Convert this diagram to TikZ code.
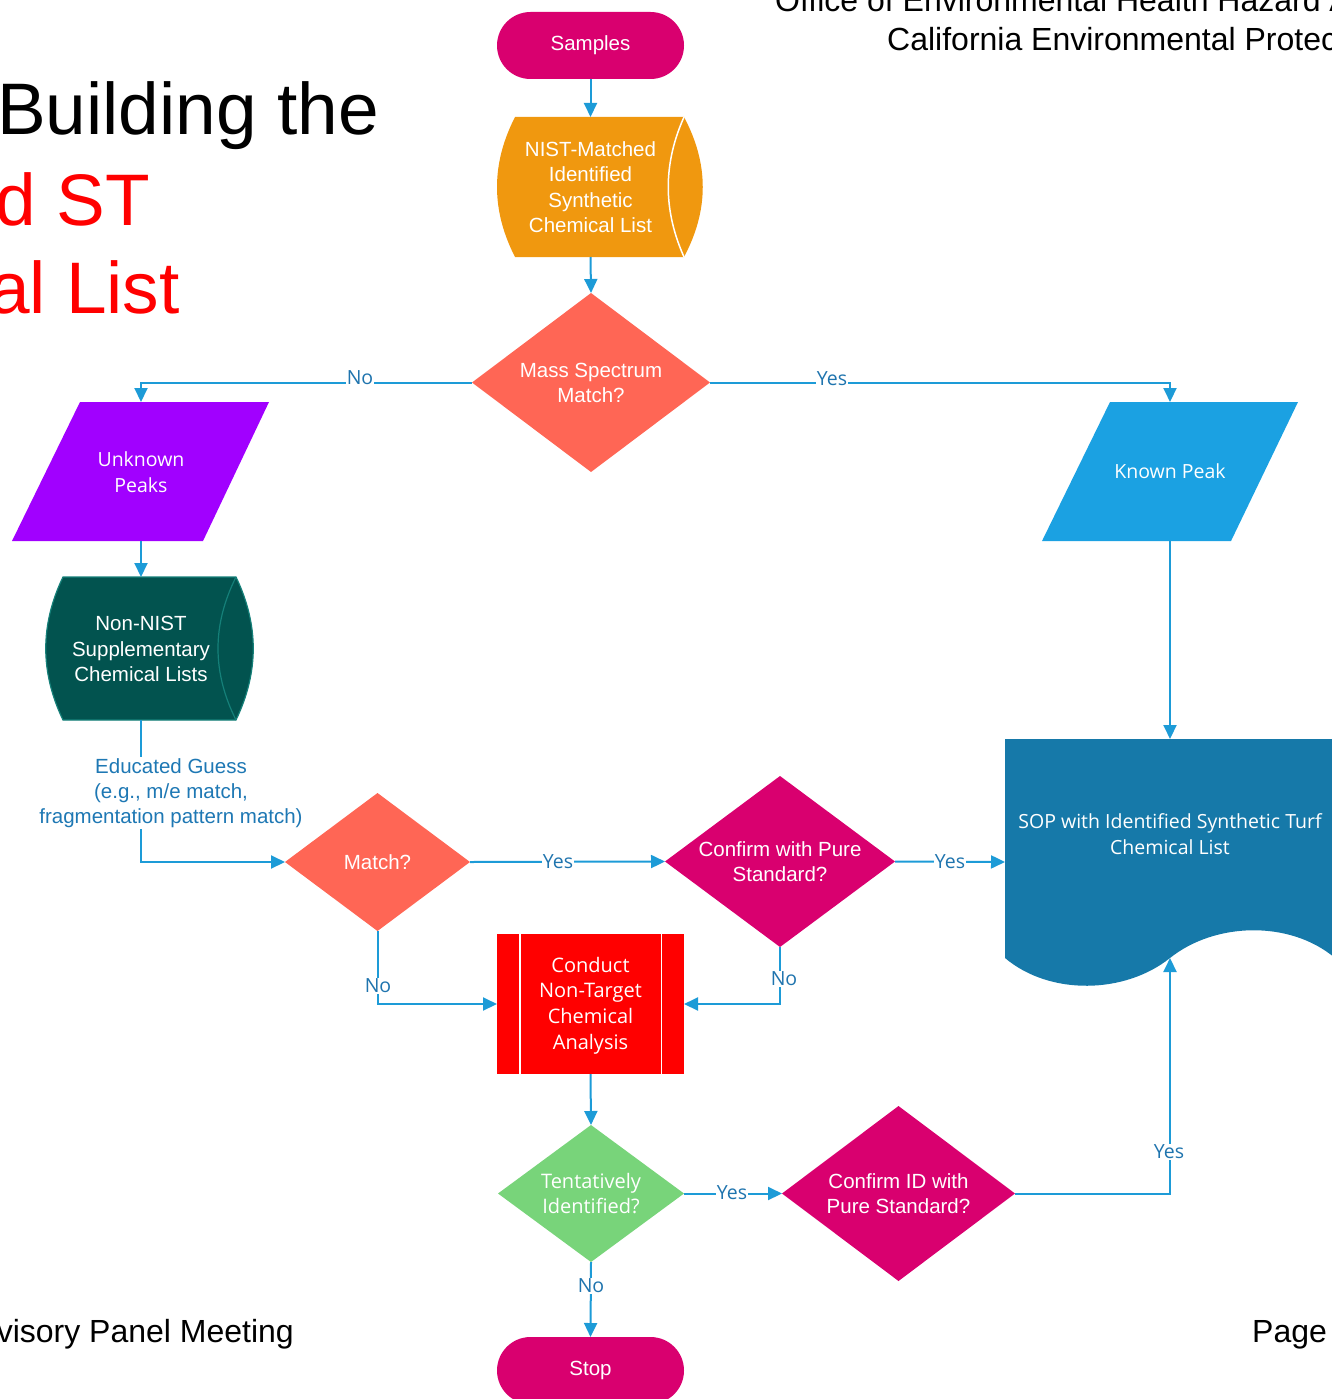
\documentclass[tikz,border=0pt]{standalone}
\usepackage{fontspec}
\setmainfont{Liberation Sans}
\newfontfamily\segoe{Open Sans}
\usetikzlibrary{arrows.meta,shapes.geometric}
\definecolor{cmag}{HTML}{D9006F}
\definecolor{corange}{HTML}{F0980F}
\definecolor{ccoral}{HTML}{FF6655}
\definecolor{cpurple}{HTML}{A100FF}
\definecolor{csky}{HTML}{1BA1E2}
\definecolor{cteal}{HTML}{02534F}
\definecolor{cteall}{HTML}{158079}
\definecolor{csop}{HTML}{1679A9}
\definecolor{cred}{HTML}{FF0000}
\definecolor{cgreen}{HTML}{78D47A}
\definecolor{cline}{HTML}{1D9BD7}
\definecolor{clbl}{HTML}{1F74AE}
\definecolor{cedu}{HTML}{1E78B4}
\begin{document}
\begin{tikzpicture}[x=1pt,y=-1pt,
  conn/.style={draw=cline, line width=2pt, -{Triangle[length=14pt,width=13pt]}},
  lbl/.style={fill=white, text=clbl, inner sep=1pt, font=\segoe\fontsize{19.5}{22}\selectfont},
  dia/.style={shape=diamond, inner sep=0pt, outer sep=0pt, draw=none},
  term/.style={shape=rectangle, rounded corners=33.5pt, minimum width=187pt, minimum height=67pt, fill=cmag, inner sep=0pt, outer sep=0pt, text=white, font=\fontsize{20.5}{25.5}\selectfont},
  atxt/.style={text=white, align=center, inner sep=0pt, font=\fontsize{20.5}{25.5}\selectfont},
  stxt/.style={text=white, align=center, inner sep=0pt, font=\segoe\fontsize{19.5}{25.5}\selectfont},
  big/.style={inner sep=0pt, font=\fontsize{73}{80}\selectfont},
  hdr/.style={inner sep=0pt, font=\fontsize{32}{36}\selectfont},
]
\useasboundingbox (0,0) rectangle (1332,1399);
\clip (0,0) rectangle (1332,1399);

% ---- page texts
\node[big, anchor=base east] (t1) at (379,135) {Building the};
\node[big, anchor=base east, text=red] (t2) at (150,225) {d ST};
\node[big, anchor=base east, text=red] (t3) at (180,313) {al List};
\node[hdr, anchor=base west] (h1) at (775,12) {Office of Environmental Health Hazard A};
\node[hdr, anchor=base west] (h2) at (887,51) {California Environmental Protec};
\node[hdr, anchor=base east] (f1) at (294,1342) {visory Panel Meeting};
\node[hdr, anchor=base west] (f2) at (1252,1342) {Page};

% ---- shapes
\node[term] (samples) at (590.5,45.5) {\raisebox{-2pt}{Samples}};

\fill[corange] (515,117) -- (684,117) .. controls (709,164) and (709,210) .. (684,257) -- (515,257) .. controls (491,210) and (491,164) .. (515,117) -- cycle;
\draw[white, line width=1.5pt] (684,117) .. controls (663,164) and (663,210) .. (684,257);
\coordinate (nistT) at (590.5,117);
\coordinate (nistB) at (590.5,257);
\node[atxt] (nistX) at (590.5,187) {NIST-Matched\\Identified\\Synthetic\\Chemical List};

\node[dia, fill=ccoral, minimum width=238pt, minimum height=179pt] (mass) at (591,382.5) {};
\node[atxt] (massX) at (591,383) {Mass Spectrum\\Match?};

\fill[cpurple] (80,402) -- (269,402) -- (203,541) -- (12,541) -- cycle;
\coordinate (unkT) at (141,402);
\coordinate (unkB) at (141,541);
\node[stxt] (unkX) at (141,472) {Unknown\\Peaks};

\fill[csky] (1110,402) -- (1298,402) -- (1231,541) -- (1042,541) -- cycle;
\coordinate (knownT) at (1170,402);
\coordinate (knownB) at (1170,541);
\node[stxt] (knownX) at (1170,471) {Known Peak};

\filldraw[fill=cteal, draw=cteall, line width=1.2pt] (63,577) -- (236,577) .. controls (259,625) and (259,672) .. (236,720) -- (63,720) .. controls (40,672) and (40,625) .. (63,577) -- cycle;
\draw[cteall, line width=1.2pt] (236,577) .. controls (212,625) and (212,672) .. (236,720);
\coordinate (nnT) at (141,577);
\coordinate (nnB) at (141,720);
\node[atxt] (nnX) at (141,649) {Non-NIST\\Supplementary\\Chemical Lists};

\fill[csop] (1005,739) -- (1345,739) -- (1345,960) -- (1335,958) .. controls (1290,920) and (1215,922) .. (1170,958) .. controls (1125,994) and (1050,996) .. (1005,958) -- cycle;
\coordinate (sopT) at (1170,739);
\coordinate (sopL) at (1005,862);
\coordinate (sopB) at (1170,958);
\node[stxt] (sopX) at (1170,834) {SOP with Identified Synthetic Turf\\Chemical List};

\node[dia, fill=ccoral, minimum width=185pt, minimum height=138pt] (match) at (377.5,862) {};
\node[atxt] (matchX) at (377.5,862) {Match?};

\node[dia, fill=cmag, minimum width=230pt, minimum height=171pt] (confirm) at (780,861.5) {};
\node[atxt] (confirmX) at (780,861.5) {Confirm with Pure\\Standard?};

\node[fill=cred, minimum width=187pt, minimum height=140pt, inner sep=0pt, outer sep=0pt] (conduct) at (590.5,1004) {};
\draw[white, line width=1.5pt] (520,934) -- (520,1074);
\draw[white, line width=1.5pt] (661.5,934) -- (661.5,1074);
\node[stxt, font=\segoe\fontsize{20}{25.7}\selectfont] (conductX) at (590.5,1005.5) {Conduct\\Non-Target\\Chemical\\Analysis};

\node[dia, fill=cgreen, minimum width=186pt, minimum height=137pt] (tent) at (591,1193.5) {};
\node[stxt, font=\segoe\fontsize{20}{25}\selectfont] (tentX) at (591,1194) {Tentatively\\Identified?};

\node[dia, fill=cmag, minimum width=233pt, minimum height=175pt] (confid) at (898.5,1193.5) {};
\node[atxt] (confidX) at (898.5,1193.5) {Confirm ID with\\Pure Standard?};

\node[term] (stop) at (590.5,1370.5) {\raisebox{-2pt}{Stop}};

% ---- connectors
\draw[conn] (samples.south) -- (nistT);
\draw[conn] (nistB) -- (mass.north);
\draw[conn] (mass.west) -| (unkT);
\draw[conn] (mass.east) -| (knownT);
\draw[conn] (unkB) -- (nnT);
\draw[conn] (knownB) -- (sopT);
\draw[conn] (nnB) |- (match.west);
\draw[conn] (match.east) -- (confirm.west);
\draw[conn] (confirm.east) -- (sopL);
\draw[conn] (match.south) |- (conduct.west);
\draw[conn] (confirm.south) |- (conduct.east);
\draw[conn] (conduct.south) -- (tent.north);
\draw[conn] (tent.east) -- (confid.west);
\draw[conn] (tent.south) -- (stop.north);
\draw[conn] (confid.east) -| (sopB);

% ---- connector labels
\node[lbl, anchor=base] (lNo1) at (360,384) {No};
\node[lbl, anchor=base] (lYes1) at (832,385) {Yes};
\node[lbl] (lYes2) at (558,862) {Yes};
\node[lbl] (lYes3) at (950,862) {Yes};
\node[lbl] (lNo2) at (378,986) {No};
\node[lbl] (lNo3) at (784,979) {No};
\node[lbl] (lYes4) at (732,1193) {Yes};
\node[lbl] (lNo4) at (591,1286) {No};
\node[lbl] (lYes5) at (1169,1152) {Yes};
\node[lbl, text=cedu, align=center, font=\fontsize{20.5}{25}\selectfont] (edu) at (171,793) {Educated Guess\\(e.g., m/e match,\\fragmentation pattern match)};
\end{tikzpicture}
\end{document}
